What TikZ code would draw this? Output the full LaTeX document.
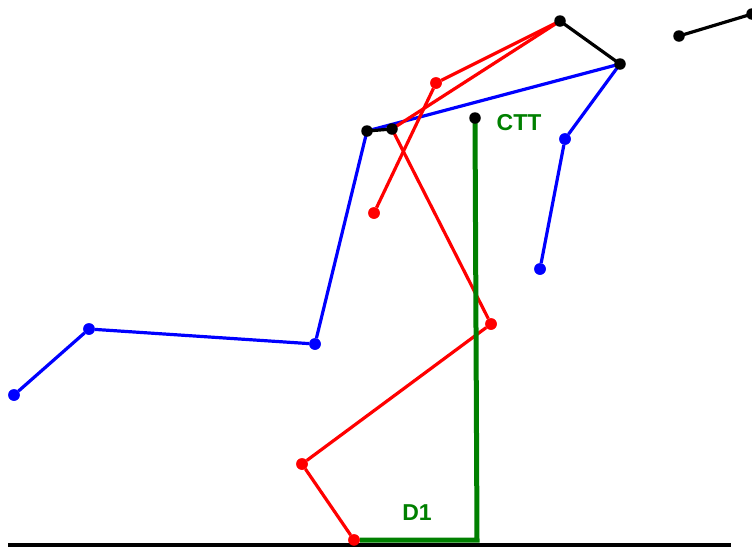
\documentclass[tikz,border=0pt]{standalone}
\usepackage{fontspec}
\setmainfont{Liberation Sans}
\definecolor{dgreen}{RGB}{0,128,0}
\begin{document}
\begin{tikzpicture}[x=1pt,y=-1pt,
  seg/.style={line width=3.2pt},
  gseg/.style={line width=5pt,dgreen},
  dot/.style={circle,fill,inner sep=0pt,minimum size=11.5pt},
  lbl/.style={text=dgreen,font=\bfseries\fontsize{23}{23}\selectfont,inner sep=0pt}]
\useasboundingbox (0,0) rectangle (752,547);
% points
\coordinate (gL) at (8,545);
\coordinate (gR) at (731,545);
\node[dot,blue] (b1) at (14,395) {};
\node[dot,blue] (b2) at (89,329) {};
\node[dot,blue] (b3) at (315,344) {};
\node[dot,blue] (b4) at (565,139) {};
\node[dot,blue] (b5) at (540,269) {};
\node[dot,red] (r1) at (436,83) {};
\node[dot,red] (r2) at (374,213) {};
\node[dot,red] (r3) at (491,324) {};
\node[dot,red] (r4) at (302,464) {};
\node[dot,red] (r5) at (354,540) {};
\coordinate (gc) at (477,540);
% connectors
\draw[seg,black,line width=3.5pt] (gL) -- (gR);
\draw[seg,blue] (b1) -- (b2) -- (b3) -- (367,131) -- (620,64) -- (b4) -- (b5);
\draw[seg,red] (560,21) -- (r1) -- (r2);
\draw[seg,red] (560,21) -- (392,129) -- (r3) -- (r4) -- (r5);
\draw[gseg] (475,118) -- (gc) -- (r5);
\draw[seg,black] (367,131) -- (392,129);
\draw[seg,black] (560,21) -- (620,64);
\draw[seg,black] (679,36) -- (752,14);
% dots on top
\node[dot,blue] at (b1) {};
\node[dot,blue] at (b2) {};
\node[dot,blue] at (b3) {};
\node[dot,blue] at (b4) {};
\node[dot,blue] at (b5) {};
\node[dot,red] at (r1) {};
\node[dot,red] at (r2) {};
\node[dot,red] at (r3) {};
\node[dot,red] at (r4) {};
\node[dot,red] at (r5) {};
\node[dot,black] (k1) at (367,131) {};
\node[dot,black] (k2) at (392,129) {};
\node[dot,black] (k3) at (560,21) {};
\node[dot,black] (k4) at (620,64) {};
\node[dot,black] (k5) at (475,118) {};
\node[dot,black] (k6) at (679,36) {};
\node[dot,black] (k7) at (752,14) {};
% labels
\node[lbl] (ctt) at (519,123) {CTT};
\node[lbl] (d1) at (417,513) {D1};
\end{tikzpicture}
\end{document}
